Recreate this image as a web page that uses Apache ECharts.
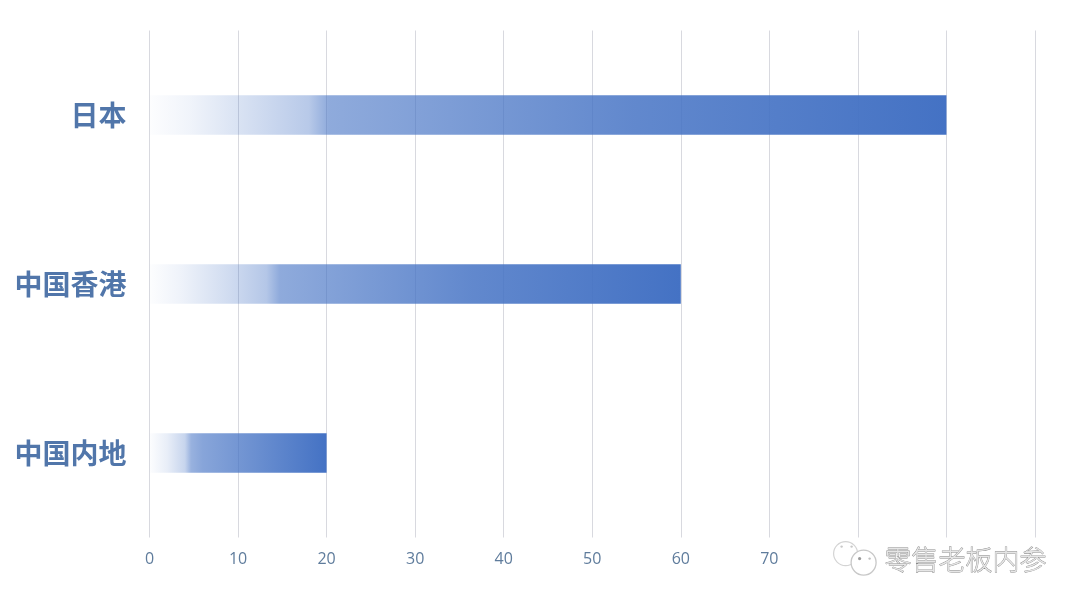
<!DOCTYPE html>
<html><head><meta charset="utf-8">
<style>html,body{margin:0;padding:0;background:#fff}#c{width:1080px;height:608px}</style>
<script src="https://cdn.jsdelivr.net/npm/echarts@6/dist/echarts.min.js"></script>
</head><body><div id="c"></div>
<script>
var categories = ['中国内地', '中国香港', '日本'];
var values = [20, 60, 90];
var tickLabels = ['0','10','20','30','40','50','60','70','','',''];
var gradientStops = {
  20: [[0,0.01],[0.1,0.12],[0.2,0.3],[0.235,0.55],[0.3,0.64],[0.65,0.82],[1,1]],
  60: [[0,0.01],[0.06,0.09],[0.15,0.25],[0.22,0.4],[0.245,0.6],[0.6,0.84],[1,1]],
  90: [[0,0.01],[0.05,0.08],[0.12,0.22],[0.2,0.38],[0.225,0.6],[0.32,0.66],[0.6,0.84],[1,1]]
};
function fill(v){
  return new echarts.graphic.LinearGradient(0,0,1,0,gradientStops[v].map(function(s){
    return {offset:s[0], color:'rgba(68,114,196,'+s[1]+')'};
  }));
}
var chart = echarts.init(document.getElementById('c'), null, {renderer:'canvas'});
chart.setOption({
  animation:false,
  backgroundColor:'#ffffff',
  grid:{left:149.5, right:45, top:30.5, bottom:70.5, containLabel:false},
  xAxis:{type:'value', min:0, max:100, interval:10,
    axisLine:{show:false}, axisTick:{show:false},
    splitLine:{show:true, lineStyle:{color:'#d8d9df', width:1}},
    axisLabel:{margin:14, fontSize:16, color:'#5f7c9c', fontFamily:'"Open Sans"',
      formatter:function(v){return tickLabels[Math.round(v/10)];}}
  },
  yAxis:{type:'category', data:categories,
    axisLine:{show:false}, axisTick:{show:false}, splitLine:{show:false},
    axisLabel:{margin:23, fontSize:28, fontWeight:700, color:'#5176aa', fontFamily:'"Noto Sans CJK SC"', padding:[2,0,0,0]}
  },
  series:[{type:'bar', barWidth:39.5,
    data:values.map(function(v){return {value:v, itemStyle:{color:fill(v)}};})
  }],
  graphic:[
    {type:'text', left:884, top:546, silent:true, z:10, style:{
      text:'零售老板内参', fontSize:27, fontFamily:'"Noto Sans CJK SC"', fontWeight:300,
      fill:'#e6e6e6', stroke:'#8a8a8a', lineWidth:0.8}},
    {type:'group', left:833, top:541, silent:true, z:10, children:[
      {type:'circle', shape:{cx:13,cy:14,r:12}, style:{fill:'#fff', stroke:'#d4d4d4', lineWidth:1.2}},
      {type:'circle', shape:{cx:31,cy:23,r:12.5}, style:{fill:'#fff', stroke:'#c8c8c8', lineWidth:1.3}},
      {type:'circle', shape:{cx:27,cy:19,r:1.6}, style:{fill:'#9a9a9a'}},
      {type:'circle', shape:{cx:37,cy:19,r:1.2}, style:{fill:'#c0c0c0'}},
      {type:'circle', shape:{cx:9,cy:7,r:1.2}, style:{fill:'#c8c8c8'}},
      {type:'circle', shape:{cx:19,cy:7,r:1.2}, style:{fill:'#c8c8c8'}}
    ]}
  ]
});
</script></body></html>
